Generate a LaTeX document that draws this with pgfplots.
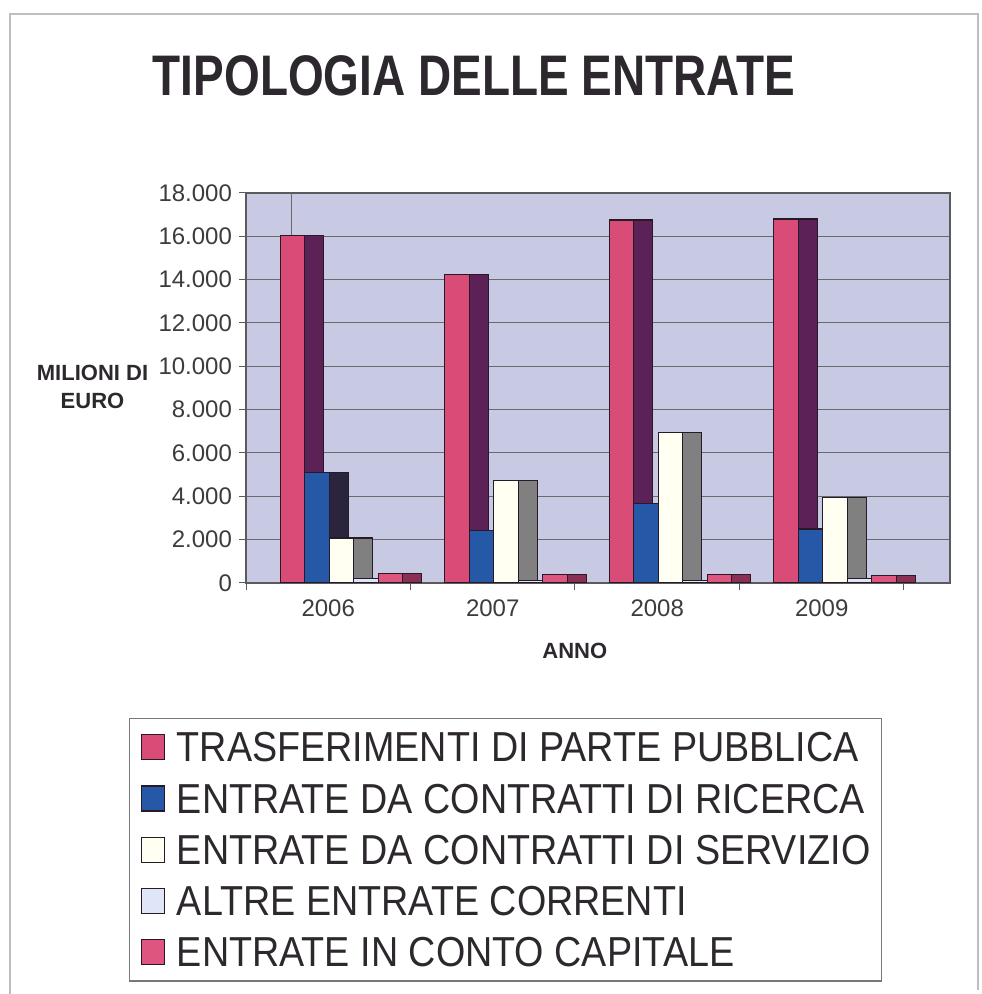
\documentclass[border=0pt]{standalone}
\usepackage{pgfplots}
\pgfplotsset{compat=1.18}
\usepackage{fontspec}
\setmainfont{Liberation Sans}
\newfontfamily\titlefont[FakeStretch=0.803]{Liberation Sans Bold}
\newfontfamily\legfont[FakeStretch=0.90]{Liberation Sans}
\definecolor{wallcol}{RGB}{200,201,226}
\definecolor{gridcol}{RGB}{105,105,110}
\definecolor{axcol}{RGB}{90,90,95}
\definecolor{pinkT}{RGB}{218,76,120}
\definecolor{sideT}{RGB}{92,34,88}
\definecolor{blueR}{RGB}{38,88,168}
\definecolor{sideR}{RGB}{42,36,62}
\definecolor{whiteS}{RGB}{255,255,242}
\definecolor{sideS}{RGB}{128,128,128}
\definecolor{lightA}{RGB}{222,230,248}
\definecolor{sideA}{RGB}{160,165,190}
\definecolor{pinkC}{RGB}{222,86,128}
\definecolor{sideC}{RGB}{138,48,84}
\definecolor{barline}{RGB}{40,25,40}
\definecolor{titlecol}{RGB}{45,40,45}
\definecolor{ticklab}{RGB}{60,60,60}
\definecolor{legcol}{RGB}{120,120,120}
\definecolor{framecol}{RGB}{190,190,190}
\pgfplotsset{
  front/.style={ybar, bar width=0.149, draw=barline, line width=0.6pt,
    legend image code/.code={\draw[##1,draw=barline,line width=0.6pt] (0pt,-6.25pt) rectangle (11.5pt,6.25pt);}},
  side/.style={ybar, bar width=0.1155, draw=barline, line width=0.6pt, forget plot}
}
\begin{document}
\begin{tikzpicture}
\useasboundingbox (0pt,0pt) rectangle (490.5pt,497pt);
\draw[framecol, line width=0.6pt] (5pt,0pt) -- (5pt,490pt) -- (489pt,490pt) -- (489pt,2pt);
\node[font=\titlefont\fontsize{28.6}{32}\selectfont, text=titlecol, anchor=base] at (237pt,449pt) {TIPOLOGIA DELLE ENTRATE};
\begin{axis}[
  at={(123pt,205.5pt)}, anchor=south west,
  scale only axis, width=352pt, height=195pt,
  xmin=-0.5, xmax=3.78, ymin=0, ymax=18000,
  axis background/.style={fill=wallcol},
  axis line style={draw=axcol, line width=0.6pt},
  tick pos=left,
  tick align=outside,
  ytick={0,2000,...,18000},
  ymajorgrids, grid style={draw=gridcol, line width=0.5pt},
  major tick length=3.5pt,
  tick style={draw=axcol, line width=0.5pt},
  xtick={-0.5,0.5,1.5,2.5,3.5}, xticklabels={},
  extra x ticks={0,1,2,3},
  extra x tick labels={2006,2007,2008,2009},
  extra x tick style={major tick length=0pt, xticklabel style={yshift=-5pt}},
  scaled y ticks=false,
  /pgf/number format/.cd, fixed, 1000 sep={.}, assume math mode=true,
  /pgfplots/.cd,
  tick label style={font=\fontsize{12}{14}\selectfont, text=ticklab},
  ylabel={MILIONI DI\\EURO},
  ylabel style={rotate=-90, align=center, font=\bfseries\fontsize{11}{14}\selectfont, text=titlecol, at={(axis description cs:-0.218,0.504)}, anchor=center},
  xlabel={ANNO},
  xlabel style={font=\bfseries\fontsize{11}{14}\selectfont, text=titlecol, at={(axis description cs:0.467,-0.173)}, anchor=center},
  legend style={at={(axis description cs:-0.166,-0.3462)}, anchor=north west, draw=legcol, line width=0.6pt, fill=white, inner xsep=5.5pt, inner ysep=7pt, row sep=11pt, column sep=6pt, nodes={inner sep=0pt, text depth=0pt}, font=\legfont\fontsize{20.95}{24}\selectfont, text=titlecol},
  legend cell align=left,
]
\draw[gridcol, line width=0.5pt] (axis cs:-0.225,0) -- (axis cs:-0.225,18000);
% side faces
\addplot[side, fill=sideT, bar shift=-0.0852] coordinates {(0,16050) (1,14250) (2,16750) (3,16800)};
\addplot[side, fill=sideR, bar shift=0.0638] coordinates {(0,5100) (1,2420) (2,3680) (3,2490)};
\addplot[side, fill=sideS, bar shift=0.2128] coordinates {(0,2080) (1,4720) (2,6950) (3,3930)};
\addplot[side, fill=sideA, bar shift=0.3618] coordinates {(0,200) (1,100) (2,100) (3,220)};
\addplot[side, fill=sideC, bar shift=0.5108] coordinates {(0,430) (1,400) (2,390) (3,350)};
% front faces
\addplot[front, fill=pinkT, bar shift=-0.2175] coordinates {(0,16050) (1,14250) (2,16750) (3,16800)};
\addplot[front, fill=blueR, bar shift=-0.0685] coordinates {(0,5100) (1,2420) (2,3680) (3,2490)};
\addplot[front, fill=whiteS, bar shift=0.0805] coordinates {(0,2080) (1,4720) (2,6950) (3,3930)};
\addplot[front, fill=lightA, bar shift=0.2295] coordinates {(0,200) (1,100) (2,100) (3,220)};
\addplot[front, fill=pinkC, bar shift=0.3785] coordinates {(0,430) (1,400) (2,390) (3,350)};
\legend{TRASFERIMENTI DI PARTE PUBBLICA, ENTRATE DA CONTRATTI DI RICERCA, ENTRATE DA CONTRATTI DI SERVIZIO, ALTRE ENTRATE CORRENTI, ENTRATE IN CONTO CAPITALE}
\end{axis}
\end{tikzpicture}
\end{document}
